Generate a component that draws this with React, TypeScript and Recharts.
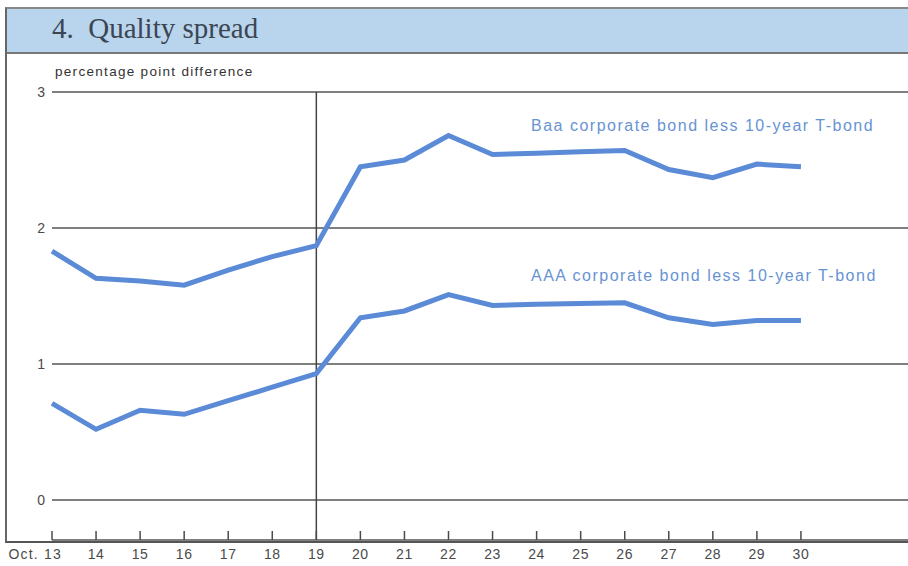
import React from "react";
import {
  LineChart,
  Line,
  XAxis,
  YAxis,
  CartesianGrid,
  ReferenceLine,
} from "recharts";

const days = [13, 14, 15, 16, 17, 18, 19, 20, 21, 22, 23, 24, 25, 26, 27, 28, 29, 30];
const baaSpread = [1.83, 1.63, 1.61, 1.58, 1.69, 1.79, 1.87, 2.45, 2.5, 2.68, 2.54, 2.55, 2.56, 2.57, 2.43, 2.37, 2.47, 2.45];
const aaaSpread = [0.71, 0.52, 0.66, 0.63, 0.73, 0.83, 0.93, 1.34, 1.39, 1.51, 1.43, 1.44, 1.445, 1.45, 1.34, 1.29, 1.32, 1.32];
const yTicks = [0, 1, 2, 3];

const data = days.map((d, i) => ({ day: d, baa: baaSpread[i], aaa: aaaSpread[i] }));

const sans = "'Liberation Sans', Arial, sans-serif";
const lineColor = "#5b8bd6";
const labelColor = "#6893d3";
const ink = "#4a4a4a";

const DayTick = (props: any) => {
  const { x, y, payload } = props;
  const first = payload.value === days[0];
  return (
    <g>
      <line x1={x} y1={y - 9} x2={x} y2={y} stroke={ink} strokeWidth={1.5} />
      <text
        x={first ? x + 10 : x}
        y={y + 19}
        textAnchor={first ? "end" : "middle"}
        fontSize={14}
        fontFamily={sans}
        letterSpacing={first ? 1.2 : 0.6}
        fill={ink}
      >
        {first ? `Oct. ${payload.value}` : payload.value}
      </text>
    </g>
  );
};

export default function App() {
  return (
    <div style={{ position: "absolute", left: 0, top: 0, width: 908, height: 566, background: "#fff", overflow: "hidden" }}>
      {/* frame */}
      <div
        style={{
          position: "absolute",
          left: 5,
          top: 7,
          width: 903,
          height: 532,
          borderLeft: "2px solid #666",
          borderTop: "2px solid #888",
          borderBottom: "2px solid #555",
        }}
      />
      {/* title bar */}
      <div
        style={{
          position: "absolute",
          left: 7,
          top: 9,
          width: 901,
          height: 43,
          background: "#b9d4ed",
          borderBottom: "2px solid #777",
        }}
      />
      <div
        style={{
          position: "absolute",
          left: 52,
          top: 12,
          fontFamily: "'Liberation Serif', 'DejaVu Serif', serif",
          fontSize: 29,
          color: "#3b4652",
          whiteSpace: "pre",
        }}
      >
        4.  Quality spread
      </div>
      <div style={{ position: "absolute", left: 55, top: 64, fontFamily: sans, fontSize: 13.5, letterSpacing: 1.3, color: "#333" }}>
        percentage point difference
      </div>
      <div style={{ position: "absolute", left: 531, top: 117, fontFamily: sans, fontSize: 16, letterSpacing: 1.5, color: labelColor }}>
        Baa corporate bond less 10-year T-bond
      </div>
      <div style={{ position: "absolute", left: 531, top: 267, fontFamily: sans, fontSize: 16, letterSpacing: 1.5, color: labelColor }}>
        AAA corporate bond less 10-year T-bond
      </div>
      <div style={{ position: "absolute", left: 0, top: 0 }}>
        <LineChart width={908} height={566} data={data} margin={{ top: 92, right: 0, bottom: 0, left: 0 }}>
          <CartesianGrid vertical={false} stroke="#555" strokeWidth={1.5} />
          <XAxis
            dataKey="day"
            type="number"
            domain={[13, 32.43]}
            ticks={days}
            height={26}
            axisLine={false}
            tickLine={false}
            tickSize={0}
            tickMargin={0}
            tick={<DayTick />}
            interval={0}
          />
          <YAxis
            type="number"
            domain={[-0.294, 3]}
            ticks={yTicks}
            width={52}
            axisLine={false}
            tickLine={false}
            tickSize={0}
            tickMargin={7}
            allowDataOverflow
            tick={{ fontSize: 14, fontFamily: sans, fill: ink }}
          />
          <ReferenceLine x={19} stroke="#444" strokeWidth={1.5} />
          <Line
            type="linear"
            dataKey="baa"
            stroke={lineColor}
            strokeWidth={5}
            dot={false}
            isAnimationActive={false}
          />
          <Line
            type="linear"
            dataKey="aaa"
            stroke={lineColor}
            strokeWidth={5}
            dot={false}
            isAnimationActive={false}
          />
        </LineChart>
      </div>
    </div>
  );
}
